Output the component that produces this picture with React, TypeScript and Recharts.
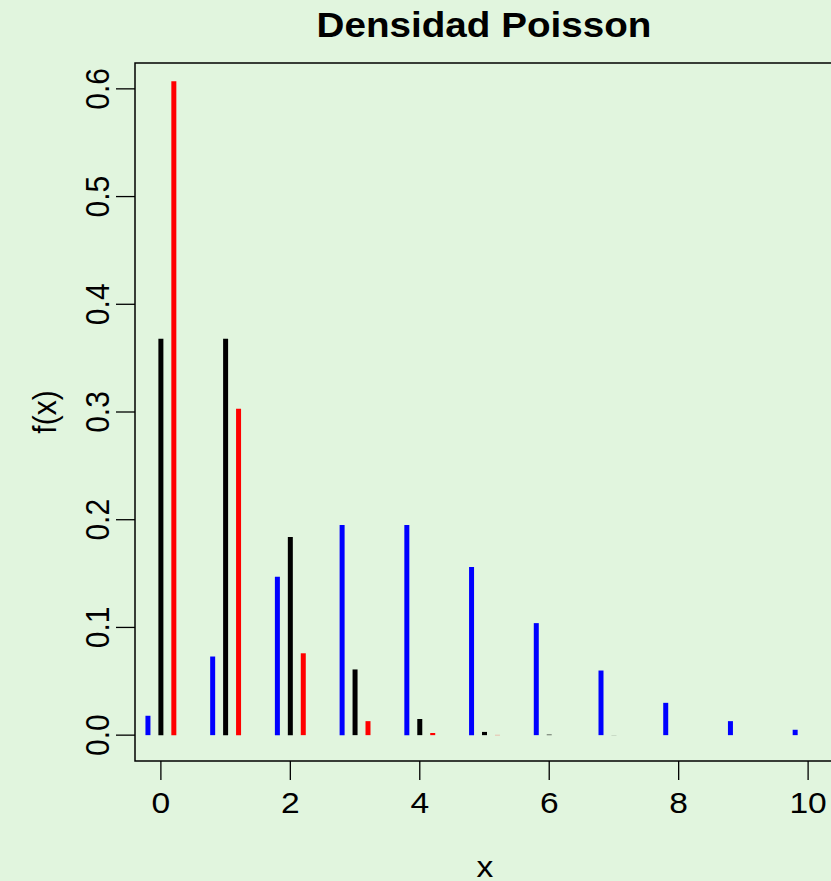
import React from "react";
import { ComposedChart, XAxis, YAxis, Scatter, ReferenceLine, ReferenceArea } from "recharts";

// x values and Poisson densities
const xValues = [0, 1, 2, 3, 4, 5, 6, 7, 8, 9, 10];
const lambda4 = [0.018, 0.073, 0.147, 0.195, 0.195, 0.156, 0.104, 0.06, 0.03, 0.013, 0.005];
const lambda1 = [0.368, 0.368, 0.184, 0.061, 0.015, 0.003, 0.0005, 0.0001, 0, 0, 0];
const lambda05 = [0.607, 0.303, 0.076, 0.013, 0.002, 0.0002, 0, 0, 0, 0, 0];

const xTicks = [0, 2, 4, 6, 8, 10];
const yTicks = [0, 0.1, 0.2, 0.3, 0.4, 0.5, 0.6];

const series = [
  { name: "lambda=4", values: lambda4, shift: -0.2, color: "#0000FF" },
  { name: "lambda=1", values: lambda1, shift: 0, color: "#000000" },
  { name: "lambda=0.5", values: lambda05, shift: 0.2, color: "#FF0000" },
];

const FONT = "'Liberation Sans', Arial, Helvetica, sans-serif";
const BG = "#E1F5DE";
const SX = 1.12; // the picture's text is a little wider than plain Arial

const points = series.flatMap((s) => xValues.map((x, i) => ({ x: x + s.shift, y: s.values[i] })));

function XTick({ x, y, payload }: any) {
  return (
    <text transform={`translate(${x},${y + 31}) scale(${SX},1)`} textAnchor="middle" fontSize={30} fontFamily={FONT} fill="#000">
      {payload.value}
    </text>
  );
}

function YTick({ x, y, payload }: any) {
  return (
    <text transform={`translate(${x - 5},${y}) scale(${SX},1) rotate(-90)`} textAnchor="middle" fontSize={30} fontFamily={FONT} fill="#000">
      {Number(payload.value).toFixed(1)}
    </text>
  );
}

export default function App() {
  return (
    <div style={{ position: "absolute", left: 0, top: 0, width: 831, height: 881, overflow: "hidden", background: BG }}>
      <ComposedChart width={840} height={881} data={points} margin={{ top: 63, right: 6, bottom: 0, left: 0 }}>
        <XAxis
          dataKey="x"
          type="number"
          domain={[-0.4, 10.4]}
          ticks={xTicks}
          axisLine={false}
          tickSize={19}
          tickMargin={2}
          tickLine={{ stroke: "#000", strokeWidth: 1.3 }}
          tick={<XTick />}
          height={120}
          allowDataOverflow
        />
        <YAxis
          dataKey="y"
          type="number"
          domain={[-0.024, 0.624]}
          ticks={yTicks}
          axisLine={false}
          tickSize={19}
          tickMargin={2}
          tickLine={{ stroke: "#000", strokeWidth: 1.3 }}
          tick={<YTick />}
          width={135}
          allowDataOverflow
        />
        <ReferenceArea x1={-0.4} x2={10.4} y1={-0.024} y2={0.624} fill="none" stroke="#000" strokeWidth={1.5} fillOpacity={0} />
        {series.flatMap((s) =>
          xValues.map((x, i) => (
            <ReferenceLine
              key={`${s.name}-${x}`}
              segment={[
                { x: x + s.shift, y: 0 },
                { x: x + s.shift, y: s.values[i] },
              ]}
              stroke={s.color}
              strokeWidth={5}
              strokeLinecap="butt"
            />
          ))
        )}
        <Scatter dataKey="y" isAnimationActive={false} shape={() => <g />} />
      </ComposedChart>
      <svg width={831} height={881} style={{ position: "absolute", left: 0, top: 0, pointerEvents: "none" }}>
        <text transform={`translate(484,37) scale(${SX},1)`} textAnchor="middle" fontSize={34.5} fontWeight="bold" fontFamily={FONT}>
          Densidad Poisson
        </text>
        <text transform={`translate(485,877) scale(${SX},1)`} textAnchor="middle" fontSize={30} fontFamily={FONT}>
          x
        </text>
        <text transform={`translate(56,412) scale(${SX},1) rotate(-90)`} textAnchor="middle" fontSize={30} fontFamily={FONT}>
          f(x)
        </text>
      </svg>
    </div>
  );
}
